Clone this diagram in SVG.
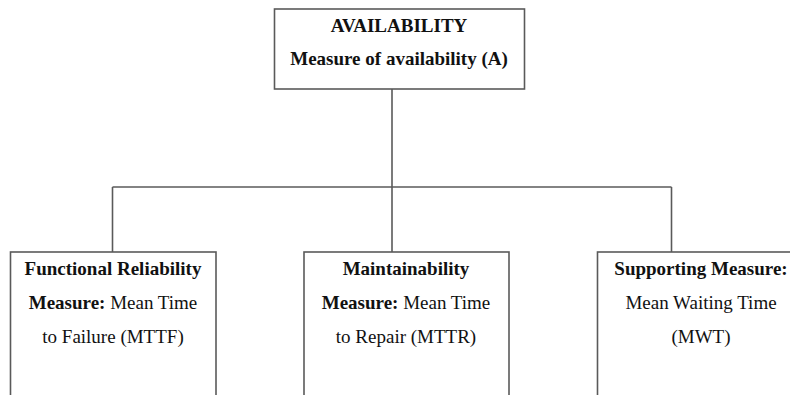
<svg xmlns="http://www.w3.org/2000/svg" width="790" height="395" viewBox="0 0 790 395">
  <style>
    .box { fill: #ffffff; stroke: #5a5a5a; stroke-width: 1.6; }
    .conn { fill: none; stroke: #5a5a5a; stroke-width: 1.6; }
    text { font-size: 19px; fill: #111111; text-anchor: middle; }
    .b { font-weight: bold; }
  </style>
  <rect width="790" height="395" fill="#ffffff"/>
  <g id="connectors">
    <path class="conn" d="M392,89 V187"/>
    <path class="conn" d="M112.5,187 H671.5"/>
    <path class="conn" d="M112.5,187 V252"/>
    <path class="conn" d="M392,187 V252"/>
    <path class="conn" d="M671.5,187 V252"/>
  </g>
  <g font-family="'Liberation Serif', 'DejaVu Serif', serif">
  <g id="availability">
    <rect class="box" x="274.5" y="9" width="250" height="80"/>
    <text x="399" y="32" class="b">AVAILABILITY</text>
    <text x="399" y="65" class="b">Measure of availability (A)</text>
  </g>
  <g id="reliability">
    <rect class="box" x="10.5" y="252" width="205.5" height="170"/>
    <text x="113" y="275" class="b">Functional Reliability</text>
    <text x="113" y="309"><tspan class="b">Measure:</tspan> Mean Time</text>
    <text x="113" y="343">to Failure (MTTF)</text>
  </g>
  <g id="maintainability">
    <rect class="box" x="304" y="252" width="205" height="170"/>
    <text x="406" y="275" class="b">Maintainability</text>
    <text x="406" y="309"><tspan class="b">Measure:</tspan> Mean Time</text>
    <text x="406" y="343">to Repair (MTTR)</text>
  </g>
  <g id="supporting">
    <rect class="box" x="597.5" y="252" width="206" height="170"/>
    <text x="701" y="275" class="b">Supporting Measure:</text>
    <text x="701" y="309">Mean Waiting Time</text>
    <text x="701" y="343">(MWT)</text>
  </g>
  </g>
</svg>
